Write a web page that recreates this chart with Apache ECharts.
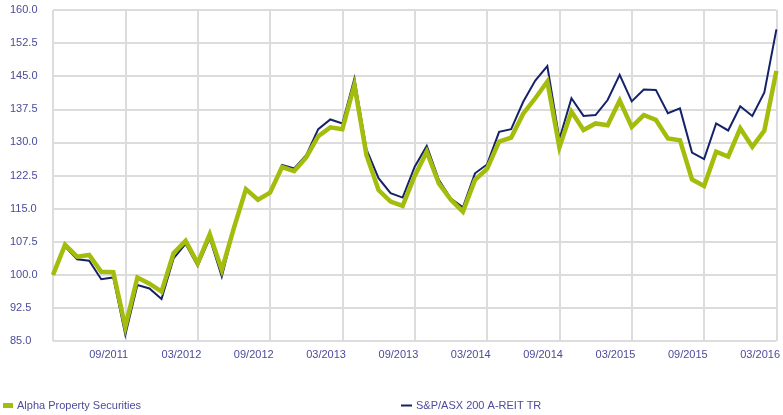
<!DOCTYPE html>
<html>
<head>
<meta charset="utf-8">
<script src="https://cdn.jsdelivr.net/npm/echarts@6/dist/echarts.min.js"></script>
<style>
html,body{margin:0;padding:0;background:#fff;}
#chart{width:783px;height:415px;}
</style>
</head>
<body>
<div id="chart"></div>
<script>
// Months from 06/2011 to 06/2016
const months = [
  "06/2011","07/2011","08/2011","09/2011","10/2011","11/2011","12/2011",
  "01/2012","02/2012","03/2012","04/2012","05/2012","06/2012","07/2012","08/2012","09/2012","10/2012","11/2012","12/2012",
  "01/2013","02/2013","03/2013","04/2013","05/2013","06/2013","07/2013","08/2013","09/2013","10/2013","11/2013","12/2013",
  "01/2014","02/2014","03/2014","04/2014","05/2014","06/2014","07/2014","08/2014","09/2014","10/2014","11/2014","12/2014",
  "01/2015","02/2015","03/2015","04/2015","05/2015","06/2015","07/2015","08/2015","09/2015","10/2015","11/2015","12/2015",
  "01/2016","02/2016","03/2016","04/2016","05/2016","06/2016"
];

const alphaValues = [
  100.0, 106.8, 104.1, 104.5, 100.7, 100.6, 88.2, 99.4, 98.0, 96.2, 104.9, 107.7,
  102.6, 109.2, 101.1, 110.6, 119.4, 117.0, 118.6, 124.4, 123.5, 126.6, 131.4, 133.4,
  133.0, 143.0, 127.1, 119.2, 116.6, 115.6, 122.4, 127.9, 120.7, 117.0, 114.3, 121.5,
  124.0, 130.2, 131.1, 136.5, 140.0, 143.8, 128.9, 137.0, 132.8, 134.3, 133.9, 139.5,
  133.5, 136.2, 135.1, 130.9, 130.5, 121.6, 120.1, 127.9, 126.8, 133.2, 129.0, 132.7, 146.2
];

const asxValues = [
  100.0, 106.4, 103.5, 103.2, 99.0, 99.4, 86.4, 97.7, 96.9, 94.5, 103.7, 107.0,
  102.0, 108.3, 99.6, 110.4, 119.6, 116.8, 118.8, 124.9, 124.1, 127.1, 133.0, 135.2,
  134.3, 144.5, 128.4, 121.9, 118.5, 117.5, 124.5, 129.2, 121.5, 117.3, 115.3, 123.0,
  125.0, 132.4, 133.0, 139.2, 144.0, 147.3, 130.7, 140.0, 136.0, 136.2, 139.6, 145.3,
  139.3, 142.0, 141.9, 136.6, 137.7, 127.7, 126.2, 134.3, 132.7, 138.2, 136.0, 141.3, 155.6
];

const seriesNames = ["Alpha Property Securities", "S&P/ASX 200 A-REIT TR"];
const yTicks = { min: 85, max: 160, interval: 7.5 };

const FONT = "'Liberation Sans Narrow', 'Arial Narrow', 'Liberation Sans', sans-serif";
const TXT = "#4b4b9a";
const GREEN = "#a4bd0c";
const NAVY = "#14226a";
const GRIDC = "#dcdcdc";

const chart = echarts.init(document.getElementById('chart'), null, {renderer: 'canvas'});
chart.setOption({
  animation: false,
  backgroundColor: '#ffffff',
  grid: { left: 53, right: 5, top: 10, bottom: 74, containLabel: false },
  legend: [
    {
      data: [seriesNames[0]],
      left: 3, top: 400,
      icon: 'rect', itemWidth: 10, itemHeight: 5, itemGap: 4,
      padding: 0,
      textStyle: { color: TXT, fontFamily: FONT, fontSize: 11, padding: [0,0,0,-1] }
    },
    {
      data: [seriesNames[1]],
      left: 401, top: 400,
      icon: 'rect', itemWidth: 11, itemHeight: 2, itemGap: 4,
      padding: 0,
      textStyle: { color: TXT, fontFamily: FONT, fontSize: 11, padding: [0,0,0,-1] }
    }
  ],
  xAxis: {
    type: 'category',
    data: months,
    boundaryGap: false,
    axisLine: { show: false },
    axisTick: { show: false },
    axisLabel: {
      interval: function (i) { return i % 6 === 3; },
      align: 'left',
      margin: 8,
      color: TXT, fontFamily: FONT, fontSize: 11
    },
    splitLine: {
      show: true,
      interval: function (i) { return i % 6 === 0; },
      lineStyle: { color: GRIDC, width: 2 }
    }
  },
  yAxis: {
    type: 'value',
    min: yTicks.min, max: yTicks.max, interval: yTicks.interval,
    axisLine: { show: false },
    axisTick: { show: false },
    axisLabel: {
      align: 'left', margin: 43,
      color: TXT, fontFamily: FONT, fontSize: 11,
      formatter: function (v) { return v.toFixed(1); }
    },
    splitLine: { show: true, lineStyle: { color: GRIDC, width: 2 } }
  },
  series: [
    {
      name: seriesNames[1], type: 'line', data: asxValues,
      showSymbol: false, symbol: 'none',
      color: NAVY,
      lineStyle: { color: NAVY, width: 2, join: 'miter' },
      z: 2
    },
    {
      name: seriesNames[0], type: 'line', data: alphaValues,
      showSymbol: false, symbol: 'none',
      color: GREEN,
      lineStyle: { color: GREEN, width: 4.5, join: 'miter' },
      z: 3
    }
  ]
});
</script>
</body>
</html>
